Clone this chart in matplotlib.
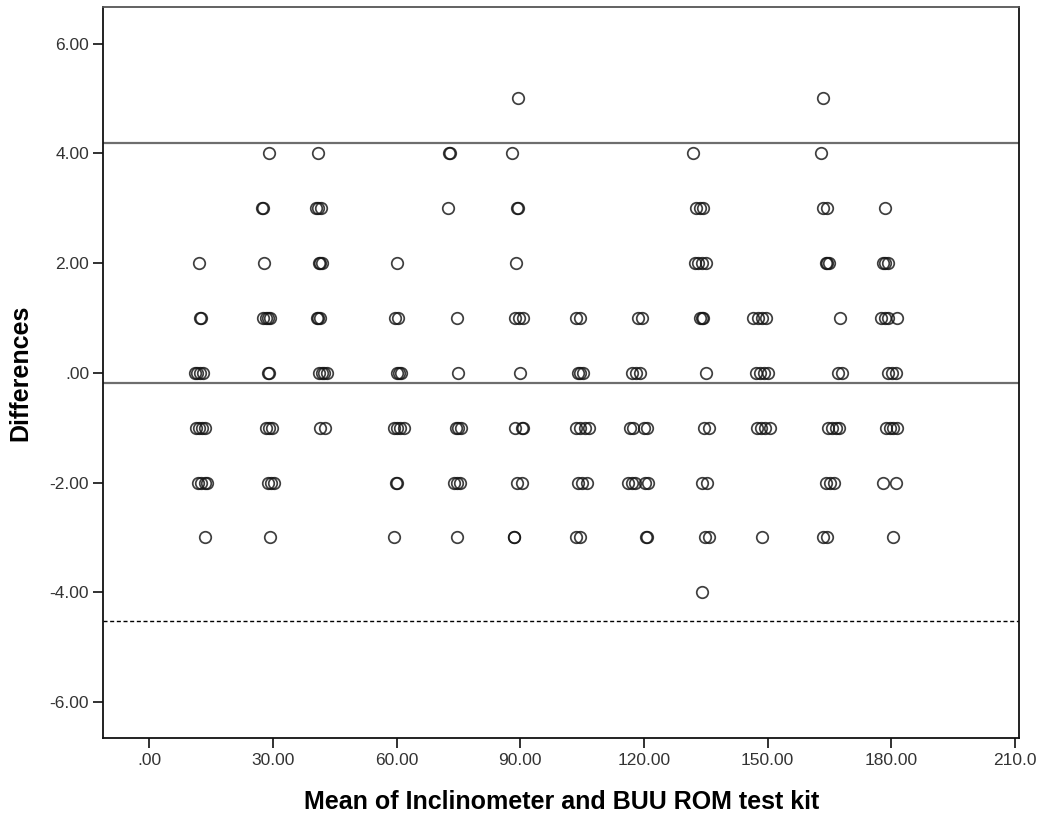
import matplotlib
matplotlib.use("Agg")
import matplotlib.pyplot as plt
import numpy as np

plt.rcParams['font.family'] = ['Liberation Sans', 'DejaVu Sans']

# mean of the two methods, grouped by the observed difference
x_diff_5 = [89.5, 163.5]
x_diff_4 = [29.0, 41.0, 72.8, 73.0, 87.9, 132.0, 163.0]
x_diff_3 = [27.4, 27.6, 40.4, 41.0, 41.6, 72.4, 89.3, 89.5,
            132.6, 133.5, 134.4, 163.5, 164.5, 178.5]
x_diff_2 = [12.1, 27.9, 41.1, 41.5, 42.0, 60.0, 89.0,
            132.3, 133.2, 134.2, 135.1, 164.1, 164.5, 165.0,
            178.0, 178.5, 179.1]
x_diff_1 = [12.4, 12.6, 27.6, 28.2, 28.8, 29.3, 40.6, 41.0, 41.5,
            59.6, 60.4, 74.6, 88.7, 89.6, 90.6, 103.6, 104.5,
            118.6, 119.5, 133.5, 134.0, 134.4, 146.5, 147.6, 148.6, 149.7,
            167.6, 177.6, 178.5, 179.3, 181.5]
x_diff_0 = [11.0, 11.7, 12.4, 13.1, 28.9, 29.1, 41.1, 41.8, 42.4, 43.1,
            60.0, 60.5, 61.0, 75.0, 89.9, 104.0, 104.6, 105.2,
            117.0, 118.0, 119.1, 135.1, 147.1, 148.1, 149.2, 150.2,
            167.1, 168.0, 179.3, 180.2, 181.2]
x_diff_m1 = [11.3, 12.1, 12.8, 13.6, 28.4, 29.0, 29.7, 41.4, 42.7,
             59.4, 60.2, 60.9, 61.7, 74.4, 75.0, 75.7, 88.7, 90.5, 90.7,
             103.6, 104.6, 105.6, 106.6, 116.6, 117.3, 120.0, 120.7,
             134.5, 135.7, 147.5, 148.5, 149.5, 150.5,
             164.7, 165.6, 166.5, 167.4, 178.7, 179.6, 180.5, 181.5]
x_diff_m2 = [11.9, 12.6, 13.4, 14.1, 28.8, 29.5, 30.3, 59.9, 60.1,
             74.0, 74.7, 75.4, 89.1, 90.4, 104.0, 105.0, 106.1,
             116.2, 117.0, 117.8, 120.3, 121.1, 134.2, 135.2,
             164.1, 165.1, 166.2, 178.0, 181.2]
x_diff_m3 = [13.5, 29.4, 59.4, 74.6, 88.4, 88.6, 103.6, 104.5,
             120.6, 120.8, 134.8, 135.7, 148.6, 163.5, 164.5, 180.5]
x_diff_m4 = [134.0]

groups = [(5, x_diff_5), (4, x_diff_4), (3, x_diff_3), (2, x_diff_2),
          (1, x_diff_1), (0, x_diff_0), (-1, x_diff_m1), (-2, x_diff_m2),
          (-3, x_diff_m3), (-4, x_diff_m4)]

mean_diff = -0.18
upper_loa = 4.195
lower_loa = -4.53

x_ticks = [0, 30, 60, 90, 120, 150, 180, 210]
x_tick_labels = ['.00', '30.00', '60.00', '90.00', '120.00', '150.00', '180.00', '210.0']
y_ticks = [-6, -4, -2, 0, 2, 4, 6]
y_tick_labels = ['-6.00', '-4.00', '-2.00', '.00', '2.00', '4.00', '6.00']

fig = plt.figure(figsize=(10.41, 8.19), dpi=100)
ax = fig.add_axes([0.0992, 0.0993, 0.8799, 0.8918])

for d, xs in groups:
    ax.plot(xs, [d] * len(xs), linestyle='none', marker='o', markersize=8.3,
            markerfacecolor='none', markeredgewidth=1.25,
            markeredgecolor=(0.08, 0.08, 0.08, 0.82))

ax.axhline(upper_loa, color='#6e6e6e', linewidth=1.6)
ax.axhline(mean_diff, color='#6e6e6e', linewidth=1.6)
ax.axhline(lower_loa, color='black', linewidth=1.0, dashes=(2.9, 1.9))

ax.set_xlim(-11.16, 211.06)
ax.set_ylim(-6.65, 6.66)
ax.set_xticks(x_ticks)
ax.set_xticklabels(x_tick_labels)
ax.set_yticks(y_ticks)
ax.set_yticklabels(y_tick_labels)
ax.tick_params(axis='both', direction='out', length=7.2, width=1.3,
               labelsize=12.5, labelcolor='#333333', color='#222222')
ax.tick_params(axis='x', pad=4)
ax.tick_params(axis='y', pad=3)

for side in ['left', 'bottom', 'right']:
    ax.spines[side].set_color('#111111')
    ax.spines[side].set_linewidth(1.3)
ax.spines['top'].set_color('#555555')
ax.spines['top'].set_linewidth(1.3)

ax.set_xlabel('Mean of Inclinometer and BUU ROM test kit', fontsize=18, fontweight='bold')
ax.set_ylabel('Differences', fontsize=18, fontweight='bold')
ax.xaxis.set_label_coords(0.5, -0.0716)
ax.yaxis.set_label_coords(-0.0778, 0.5)

fig.savefig('out.png', dpi=100)
